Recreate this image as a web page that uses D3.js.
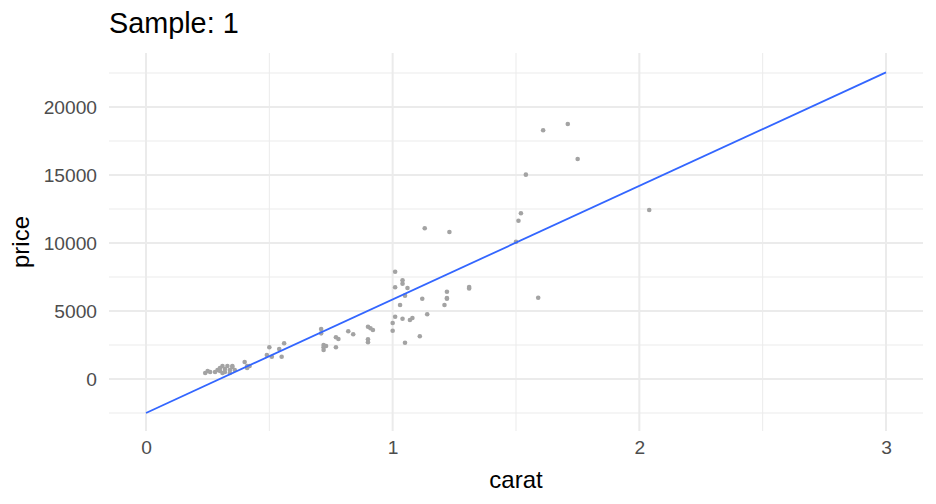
<!DOCTYPE html>
<html><head><meta charset="utf-8">
<script src="https://cdn.jsdelivr.net/npm/d3@7"></script>
<style>body{margin:0;background:#fff}text{font-family:"Liberation Sans",Arial,sans-serif}</style>
</head><body><svg id="c" width="936" height="504"></svg>
<script>
const carat = [0.24,0.25,0.26,0.28,0.29,0.30,0.30,0.31,0.32,0.33,0.34,0.35,0.35,0.31,0.32,0.34,0.36,0.40,0.41,0.41,0.42,
  0.49,0.50,0.51,0.54,0.55,0.56,
  0.71,0.71,0.72,0.72,0.72,0.73,0.77,0.77,0.78,0.82,0.84,0.90,0.91,0.92,0.90,0.90,
  1.01,1.04,1.04,1.01,1.06,1.05,1.12,1.22,1.22,1.22,1.21,1.31,1.31,1.03,1.14,1.01,1.04,1.07,1.08,1.00,1.00,1.11,1.05,
  1.13,1.23,1.61,1.71,1.75,1.54,1.52,1.51,1.50,2.04,1.59];
const price = [441,588,515,515,662,809,588,956,735,956,662,882,956,441,515,441,662,1250,956,809,956,
  1765,2330,1640,2206,1640,2625,
  3676,3358,2500,2330,2132,2426,2330,3066,2941,3507,3287,3846,3728,3603,2919,2699,
  7890,7257,7010,6743,6691,6127,5906,6420,5956,5900,5441,6765,6650,5441,4757,4581,4434,4338,4485,4118,3552,3140,2670,
  11080,10810,18287,18750,16176,15025,12184,11640,10096,12426,5978];
const fitIntercept = -2500, fitSlope = 8350;
const fitX = [0, 3];
const xMajor = [0,1,2,3], xMinor = [0.5,1.5,2.5];
const yMajor = [0,5000,10000,15000,20000], yMinor = [-2500,2500,7500,12500,17500,22500];
const titleText = "Sample: 1", xLabel = "carat", yLabel = "price";

const svg = d3.select("#c");
const x = d3.scaleLinear().domain([-0.15,3.15]).range([109,923]);
const y = d3.scaleLinear().domain([-3824,23971]).range([431,53]);
const g = svg.append("g");
const grid = "#EBEBEB";
g.selectAll(".ymin").data(yMinor).join("line").attr("x1",109).attr("x2",923).attr("y1",d=>y(d)).attr("y2",d=>y(d)).attr("stroke",grid).attr("stroke-width",1);
g.selectAll(".xmin").data(xMinor).join("line").attr("y1",53).attr("y2",431).attr("x1",d=>x(d)).attr("x2",d=>x(d)).attr("stroke",grid).attr("stroke-width",1);
g.selectAll(".ymaj").data(yMajor).join("line").attr("x1",109).attr("x2",923).attr("y1",d=>y(d)).attr("y2",d=>y(d)).attr("stroke",grid).attr("stroke-width",2);
g.selectAll(".xmaj").data(xMajor).join("line").attr("y1",53).attr("y2",431).attr("x1",d=>x(d)).attr("x2",d=>x(d)).attr("stroke",grid).attr("stroke-width",2);

const pts = carat.map((c,i)=>({c,p:price[i]}));
g.selectAll("circle").data(pts).join("circle").attr("cx",d=>x(d.c)).attr("cy",d=>y(d.p)).attr("r",2.3).attr("fill","#A3A3A3");

g.append("path").datum(fitX).attr("d",d3.line().x(d=>x(d)).y(d=>y(fitIntercept+fitSlope*d))).attr("stroke","#3366FF").attr("stroke-width",1.8).attr("fill","none");

const xa = svg.append("g").attr("transform","translate(0,431)").call(d3.axisBottom(x).tickValues(xMajor).tickFormat(d3.format("d")).tickSize(0).tickPadding(9));
const ya = svg.append("g").attr("transform","translate(109,0)").call(d3.axisLeft(y).tickValues(yMajor).tickFormat(d=>String(d)).tickSize(0).tickPadding(12));
[xa,ya].forEach(a=>{a.select(".domain").remove();a.selectAll("text").attr("fill","#4D4D4D").style("font-size","19.2px").style("font-family","'Liberation Sans',Arial,sans-serif");});

svg.append("text").attr("x",x(1.5)).attr("y",488).attr("text-anchor","middle").style("font-size","24px").attr("fill","#000").text(xLabel);
svg.append("text").attr("transform","translate(29,242) rotate(-90)").attr("text-anchor","middle").style("font-size","24px").attr("fill","#000").text(yLabel);
svg.append("text").attr("x",109).attr("y",33).style("font-size","28.8px").attr("fill","#000").text(titleText);
</script></body></html>
